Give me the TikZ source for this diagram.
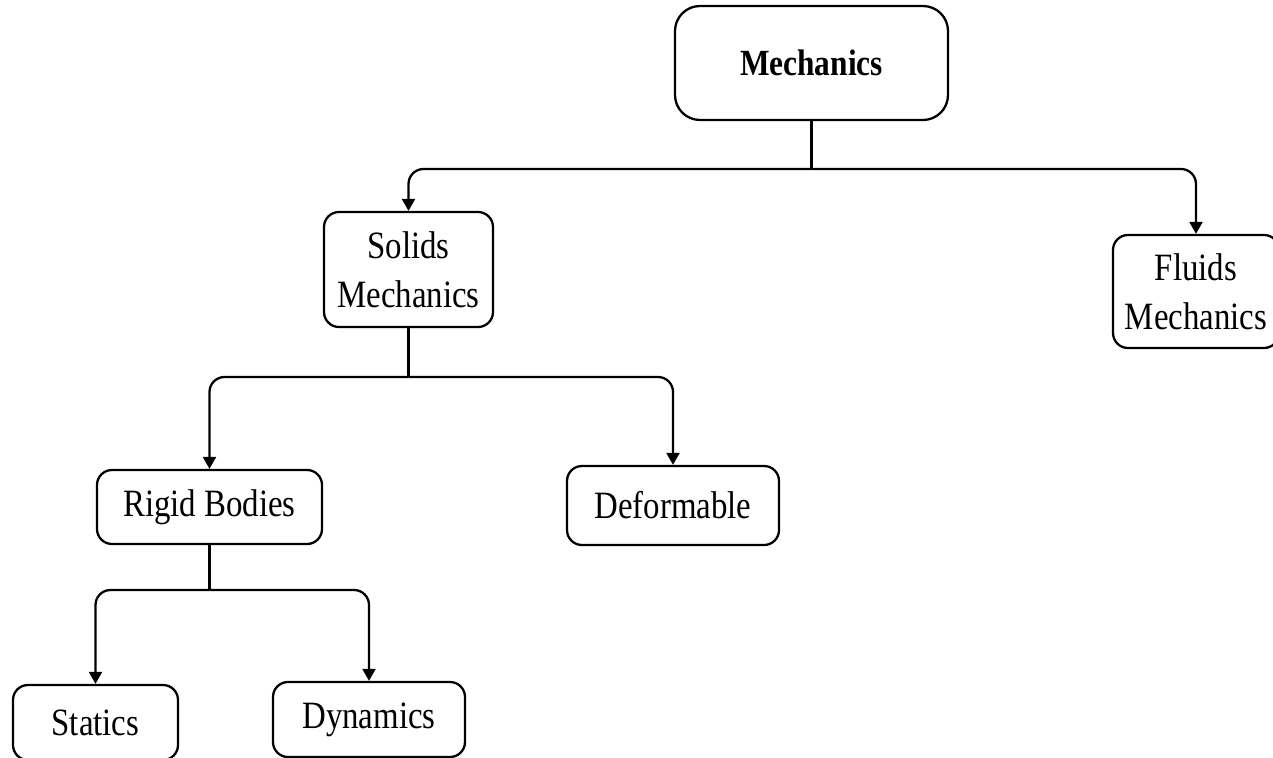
\documentclass[tikz,border=0pt]{standalone}
\usepackage{fontspec}
\setmainfont{Liberation Serif}[FakeStretch=0.85]
\usetikzlibrary{arrows.meta}
\tikzset{
  box/.style={draw=black, line width=1.3pt, rounded corners=0.3cm, align=center,
    inner sep=0pt, font=\fontsize{22}{28}\selectfont},
  link/.style={line width=1.3pt, rounded corners=0.3cm},
  arr/.style={link, -{Triangle[length=0.24cm,width=0.26cm]}}
}
\begin{document}
\begin{tikzpicture}
\clip (0,0) rectangle (25.46,15.14);

% top level
\node[box, rounded corners=0.5cm, minimum width=5.46cm, minimum height=2.28cm,
  font=\fontsize{21}{28}\selectfont\bfseries] (mech) at (16.23,13.88) {Mechanics};

% second level
\node[box, minimum width=3.38cm, minimum height=2.30cm] (solids) at (8.17,9.75) {Solids\\Mechanics};
\node[box, minimum width=3.32cm, minimum height=2.26cm] (fluids) at (23.92,9.31) {Fluids\\Mechanics};

% third level
\node[box, minimum width=4.50cm, minimum height=1.48cm] (rigid) at (4.19,5.00) {Rigid Bodies};
\node[box, minimum width=4.24cm, minimum height=1.58cm] (deform) at (13.46,5.03) {Deformable};

% fourth level
\node[box, minimum width=3.30cm, minimum height=1.50cm] (statics) at (1.91,0.69) {Statics};
\node[box, minimum width=3.84cm, minimum height=1.50cm] (dynamics) at (7.38,0.75) {Dynamics};

% branches
\coordinate (j1) at (16.23,11.76);
\draw[link] (mech.south) -- (j1);
\draw[arr] (j1) -| (solids.north);
\draw[arr] (j1) -| (fluids.north);

\coordinate (j2) at (8.17,7.60);
\draw[link] (solids.south) -- (j2);
\draw[arr] (j2) -| (rigid.north);
\draw[arr] (j2) -| (deform.north);

\coordinate (j3) at (4.19,3.34);
\draw[link] (rigid.south) -- (j3);
\draw[arr] (j3) -| (statics.north);
\draw[arr] (j3) -| (dynamics.north);
\end{tikzpicture}
\end{document}
